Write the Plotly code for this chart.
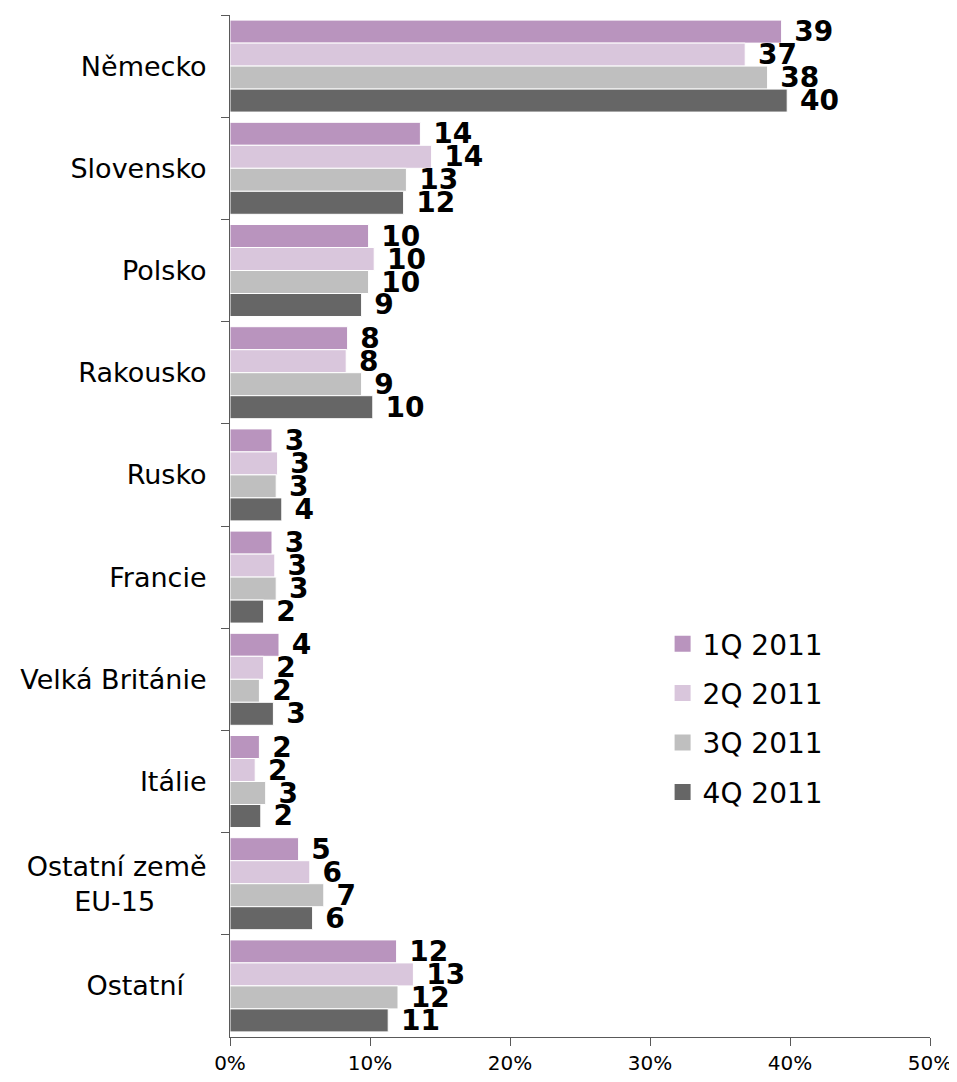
import plotly.graph_objects as go

countries = ["Německo", "Slovensko", "Polsko", "Rakousko", "Rusko", "Francie",
             "Velká Británie", "Itálie",
             "Ostatní země<br>EU-15\u00a0\u00a0\u00a0\u00a0\u00a0\u00a0",
             "Ostatní\u00a0\u00a0\u2009"]

q1_2011 = [39.4, 13.6, 9.9, 8.4, 3.0, 3.0, 3.5, 2.1, 4.9, 11.9]
q2_2011 = [36.8, 14.4, 10.3, 8.3, 3.4, 3.2, 2.4, 1.8, 5.7, 13.1]
q3_2011 = [38.4, 12.6, 9.9, 9.4, 3.3, 3.3, 2.1, 2.55, 6.7, 12.0]
q4_2011 = [39.8, 12.4, 9.4, 10.2, 3.7, 2.4, 3.1, 2.2, 5.9, 11.3]

series = [
    ("1Q 2011", q1_2011, "#B994BE"),
    ("2Q 2011", q2_2011, "#D9C6DC"),
    ("3Q 2011", q3_2011, "#BFBFBF"),
    ("4Q 2011", q4_2011, "#666666"),
]

font_family = "DejaVu Sans"

fig = go.Figure()
for name, values, color in series:
    fig.add_trace(go.Bar(
        x=values,
        y=countries,
        orientation="h",
        name=name,
        marker_color=color,
        marker_line=dict(color="white", width=1),
        texttemplate=" %{x:.0f}",
        textposition="outside",
        constraintext="none",
        cliponaxis=False,
        textfont=dict(family=font_family, size=28, color="black", weight="bold"),
        showlegend=False,
    ))

# legend proxies with bigger square swatches
for name, values, color in series:
    fig.add_trace(go.Scatter(
        x=[None], y=[None],
        mode="markers",
        name=name,
        legendgroup=name,
        marker=dict(symbol="square", size=16, color=color),
    ))

# page body has an 8px margin, so the figure is sized/offset to fit the window
fig.update_layout(
    width=949, height=1066,
    margin=dict(l=222, r=27, t=7, b=37),
    paper_bgcolor="white",
    plot_bgcolor="white",
    barmode="group",
    bargap=0.1,
    bargroupgap=0,
    font=dict(family=font_family, color="black"),
    legend=dict(
        x=0.618, y=0.409, xanchor="left", yanchor="top",
        font=dict(size=28),
        traceorder="grouped",
        tracegroupgap=10,
        bgcolor="rgba(0,0,0,0)",
    ),
)

fig.update_xaxes(
    range=[0, 50], dtick=10, ticksuffix="%",
    showgrid=False, zeroline=False, automargin=False,
    showline=True, linecolor="#595959", linewidth=1,
    ticks="outside", ticklen=8, tickcolor="#595959",
    tickfont=dict(size=20),
)
fig.update_yaxes(
    type="category", autorange="reversed",
    showgrid=False, automargin=False,
    showline=True, linecolor="#595959", linewidth=1,
    ticks="outside", ticklen=8, tickcolor="#595959",
    tickson="boundaries",
    ticklabelstandoff=17,
    tickfont=dict(size=27),
)

fig.write_html("out.html")
